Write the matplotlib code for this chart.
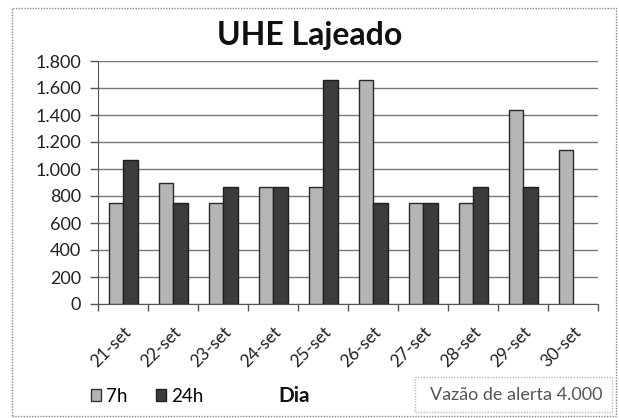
import matplotlib
matplotlib.use("Agg")
import matplotlib.pyplot as plt
from matplotlib.patches import Rectangle, Patch
import numpy as np

categories = ["21-set", "22-set", "23-set", "24-set", "25-set",
              "26-set", "27-set", "28-set", "29-set", "30-set"]
vals_7h = [750, 900, 750, 870, 870, 1660, 750, 750, 1440, 1140]
vals_24h = [1070, 750, 870, 870, 1660, 750, 750, 870, 870, 0]
yticks = [0, 200, 400, 600, 800, 1000, 1200, 1400, 1600, 1800]
ytick_labels = ["0", "200", "400", "600", "800", "1.000", "1.200", "1.400", "1.600", "1.800"]
title = "UHE Lajeado"
xlabel = "Dia"
note = "Vazão de alerta 4.000"
series_names = ["7h", "24h"]

plt.rcParams['font.family'] = ['Lato', 'DejaVu Sans']

W, H = 619, 418
fig = plt.figure(figsize=(W / 100, H / 100), dpi=100)
fig.patch.set_facecolor("white")

def fx(px):
    return px / W

def fy(py):
    return 1 - py / H

ax = fig.add_axes([fx(98), fy(304), fx(598) - fx(98), fy(61) - fy(304)])

x = np.arange(len(categories))
bw = 0.29
c7 = "#b5b5b5"
c24 = "#3c3c3c"
lw7 = [1.0 if v > 0 else 0 for v in vals_7h]
lw24 = [1.0 if v > 0 else 0 for v in vals_24h]
ax.bar(x - bw / 2, vals_7h, bw, color=c7, edgecolor="#2a2a2a", linewidth=lw7, zorder=3)
ax.bar(x + bw / 2, vals_24h, bw, color=c24, edgecolor="#1e1e1e", linewidth=lw24, zorder=3)

ax.set_xlim(-0.5, len(categories) - 0.5)
ax.set_ylim(0, 1800)
ax.set_yticks(yticks)
ax.set_yticklabels(ytick_labels, fontsize=13, color="#222222")
ax.yaxis.grid(True, color="#777777", linewidth=1.0, zorder=0)
ax.set_axisbelow(True)

ax.set_xticks(x)
ax.set_xticklabels(categories, rotation=45, ha="right", rotation_mode="anchor",
                   fontsize=12.5, color="#222222")
ax.set_xticks(np.arange(-0.5, len(categories)), minor=True)
ax.tick_params(axis="x", which="major", length=0, pad=14)
ax.tick_params(axis="x", which="minor", length=5, color="#555555", width=1)
ax.tick_params(axis="y", length=6, color="#555555", width=1, pad=6)

for s in ["top", "right"]:
    ax.spines[s].set_visible(False)
ax.spines["left"].set_color("#555555")
ax.spines["bottom"].set_color("#555555")

# Title
fig.text(fx(310), fy(35), title, ha="center", va="center", fontsize=23,
         fontweight="bold", color="#111111")

# Legend
fig.legend(handles=[Patch(facecolor=c7, edgecolor="#333333", label=series_names[0]),
                    Patch(facecolor=c24, edgecolor="#222222", label=series_names[1])],
           loc="center left", bbox_to_anchor=(fx(91), fy(396)), ncol=2, frameon=False,
           fontsize=13.5, handlelength=0.55, handleheight=0.55, handletextpad=0.25,
           columnspacing=1.5, borderaxespad=0, borderpad=0)

# x label
fig.text(fx(294), fy(396), xlabel, ha="center", va="center", fontsize=15,
         fontweight="bold", color="#111111")

# Note box
fig.patches.append(Rectangle((fx(415), fy(412)), fx(612) - fx(415), fy(377) - fy(412),
                             transform=fig.transFigure, facecolor="white",
                             edgecolor="#bbbbbb", linewidth=1, linestyle=(0, (1, 1))))
fig.text(fx(516), fy(395), note, ha="center", va="center", fontsize=13,
         color="#555555")

# Figure border
fig.patches.append(Rectangle((fx(12), fy(416)), fx(616) - fx(12), fy(8) - fy(416),
                             transform=fig.transFigure, fill=False,
                             edgecolor="#888888", linewidth=1, linestyle=(0, (1, 1))))

fig.savefig("out.png", dpi=100, facecolor="white")
